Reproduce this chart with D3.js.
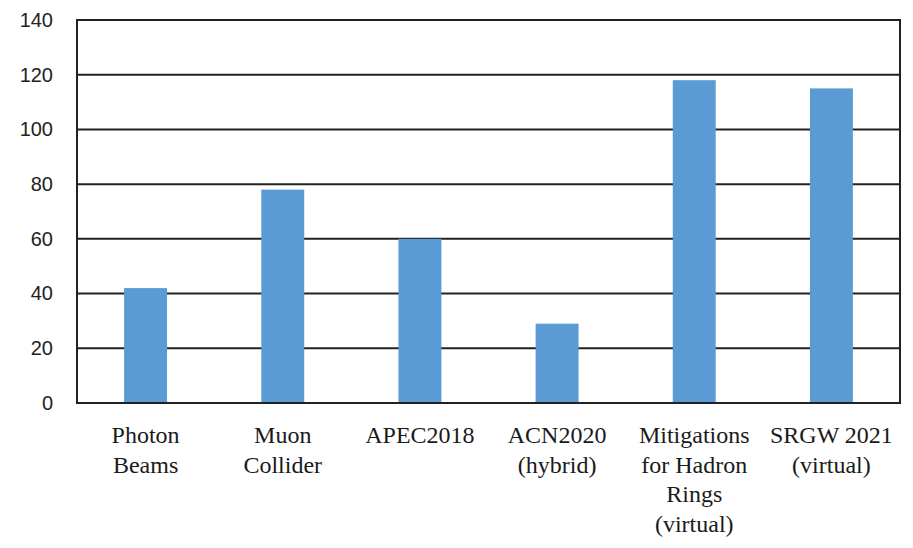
<!DOCTYPE html>
<html>
<head>
<meta charset="utf-8">
<script src="https://cdn.jsdelivr.net/npm/d3@7"></script>
<style>
  html, body { margin: 0; padding: 0; background: #fff; }
  svg { display: block; }
</style>
</head>
<body>
<svg id="chart" width="913" height="548"></svg>
<script>
// Workshop names (one entry per line of the label) and their values
const categoryLines = [
  ["Photon", "Beams"],
  ["Muon", "Collider"],
  ["APEC2018"],
  ["ACN2020", "(hybrid)"],
  ["Mitigations", "for Hadron", "Rings", "(virtual)"],
  ["SRGW 2021", "(virtual)"]
];
const values = [42, 78, 60, 29, 118, 115];
const yTicks = [0, 20, 40, 60, 80, 100, 120, 140];

// pick the first installed serif face for the category labels
function installed(name) {
  const c = document.createElement("canvas").getContext("2d");
  const s = "Mitigations for Hadron 2021 mmmwwwiii";
  return ["monospace", "sans-serif"].some(base => {
    c.font = `40px ${base}`;
    const w0 = c.measureText(s).width;
    c.font = `40px "${name}", ${base}`;
    return c.measureText(s).width !== w0;
  });
}
const serifChoices = ["Liberation Serif", "Times New Roman", "Tinos", "DejaVu Serif", "Noto Serif", "FreeSerif"];
const serifFace = serifChoices.find(installed) || "serif";

const svg = d3.select("#chart");
const margin = { left: 77, right: 13, top: 20, bottom: 145 };
const W = 913, H = 548;
const plotW = W - margin.left - margin.right;
const plotH = H - margin.top - margin.bottom;

const keys = categoryLines.map((d, i) => i);

const x = d3.scaleBand()
  .domain(keys)
  .range([margin.left, margin.left + plotW])
  .paddingInner(0.687)
  .paddingOuter(0.3435);

const y = d3.scaleLinear()
  .domain([0, 140])
  .range([margin.top + plotH, margin.top]);

const lineColor = "#222";

// horizontal gridlines
svg.append("g")
  .selectAll("line")
  .data(yTicks)
  .join("line")
  .attr("x1", margin.left)
  .attr("x2", margin.left + plotW)
  .attr("y1", d => y(d))
  .attr("y2", d => y(d))
  .attr("stroke", lineColor)
  .attr("stroke-width", 2);

// bars
svg.append("g")
  .selectAll("rect")
  .data(values)
  .join("rect")
  .attr("x", (d, i) => x(i))
  .attr("width", x.bandwidth())
  .attr("y", d => y(d))
  .attr("height", d => y(0) - y(d))
  .attr("fill", "#5B9BD5");

// frame: left and right verticals, baseline on top of bars
svg.append("line")
  .attr("x1", margin.left).attr("x2", margin.left)
  .attr("y1", y(140) - 1).attr("y2", y(0) + 1)
  .attr("stroke", lineColor).attr("stroke-width", 2);
svg.append("line")
  .attr("x1", margin.left + plotW).attr("x2", margin.left + plotW)
  .attr("y1", y(140) - 1).attr("y2", y(0) + 1)
  .attr("stroke", lineColor).attr("stroke-width", 2);
svg.append("line")
  .attr("x1", margin.left).attr("x2", margin.left + plotW)
  .attr("y1", y(0)).attr("y2", y(0))
  .attr("stroke", lineColor).attr("stroke-width", 2);

// y axis labels
const yAxis = d3.axisLeft(y).tickValues(yTicks).tickSize(0).tickPadding(24);
const gy = svg.append("g")
  .attr("transform", `translate(${margin.left},0)`)
  .call(yAxis)
  .attr("font-family", "Liberation Sans, Arial, sans-serif")
  .attr("font-size", 20);
gy.select(".domain").remove();
gy.selectAll("text").attr("fill", "#222");

// x axis labels, multi-line; size the serif face so "Photon" spans ~68px
const xFontSize = (() => {
  const c = document.createElement("canvas").getContext("2d");
  c.font = `100px "${serifFace}", serif`;
  const w = c.measureText("Photon").width;
  return Math.max(18, Math.min(26, 68 / w * 100));
})();

const gx = svg.append("g")
  .attr("font-family", `"${serifFace}", serif`)
  .attr("font-size", xFontSize);
gx.selectAll("text")
  .data(categoryLines)
  .join("text")
  .attr("text-anchor", "middle")
  .attr("fill", "#1a1a1a")
  .each(function (lines, i) {
    const t = d3.select(this);
    lines.forEach((ln, j) => {
      t.append("tspan")
        .attr("x", x(i) + x.bandwidth() / 2)
        .attr("y", y(0) + 40 + j * 29.5)
        .text(ln);
    });
  });
</script>
</body>
</html>
